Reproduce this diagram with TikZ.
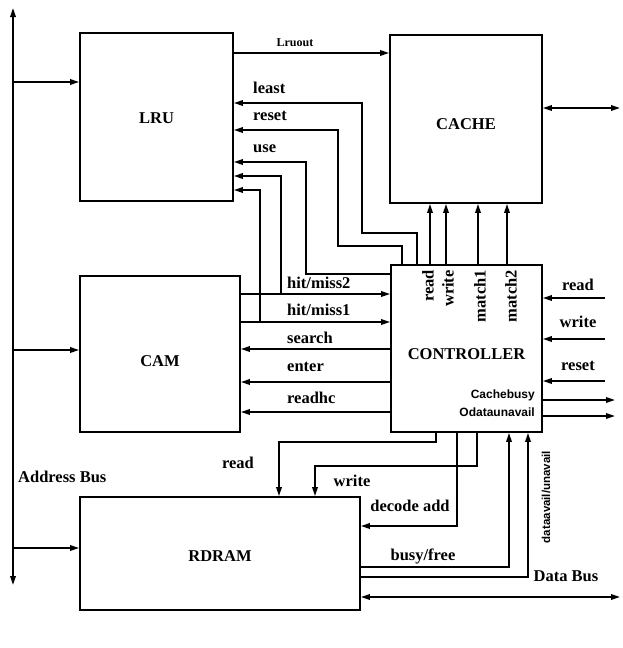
\documentclass[tikz,border=0pt]{standalone}
\usepackage{fontspec}
\setmainfont{Liberation Serif}
\newfontfamily\sigsans{Liberation Sans}
\usetikzlibrary{arrows.meta}

\begin{document}
\begin{tikzpicture}[
  x=1pt, y=-1pt,
  blk/.style={draw, line width=1.8pt, rectangle, inner sep=0pt},
  arr/.style={-{Triangle[length=9pt,width=5.5pt]}, line width=1.7pt},
  darr/.style={{Triangle[length=9pt,width=5.5pt]}-{Triangle[length=9pt,width=5.5pt]}, line width=1.7pt},
  sig/.style={inner sep=0pt, font=\bfseries\fontsize{16.5}{18}\selectfont},
  smallsig/.style={inner sep=0pt, font=\sigsans\bfseries\fontsize{12}{13}\selectfont},
]
\useasboundingbox (0,0) rectangle (622,648);

% blocks
\node[blk, minimum width=153, minimum height=168, label={[sig,name=lrutxt,yshift=-1]center:LRU}] (lru) at (156.5,117) {};
\node[blk, minimum width=152, minimum height=168, label={[sig,name=cachetxt,yshift=-5]center:CACHE}] (cache) at (466,119) {};
\node[blk, minimum width=160, minimum height=156, label={[sig,name=camtxt,yshift=-7]center:CAM}] (cam) at (160,354) {};
\node[blk, minimum width=151, minimum height=167, label={[sig,name=ctrltxt,yshift=-6]center:CONTROLLER}] (ctrl) at (466.5,348.5) {};
\node[blk, minimum width=280, minimum height=113, label={[sig,name=rdramtxt,yshift=-3]center:RDRAM}] (rdram) at (220,553.5) {};

% address bus
\coordinate (abtop) at (13,8);
\coordinate (abbot) at (13,585);
\draw[darr] (abbot) -- (abtop);
\node[sig, anchor=west] (ablbl) at (18,477) {Address Bus};
\draw[arr] (abtop |- 0,82) -- (lru.west |- 0,82);
\draw[arr] (abtop |- 0,350) -- (cam.west |- 0,350);
\draw[arr] (abtop |- 0,548) -- (rdram.west |- 0,548);

% lru <-> cache
\draw[arr] (lru.east |- 0,53) -- (cache.west |- 0,53);
\node[sig, font=\bfseries\fontsize{12}{13}\selectfont] (lruoutlbl) at (295,43) {Lruout};
\coordinate (cbus) at (620,108);
\draw[darr] (cache.east |- cbus) -- (cbus);

% controller -> lru
\draw[arr] (ctrl.north -| 417,0) |- (362,233) |- (lru.east |- 0,103);
\node[sig, anchor=west] (leastlbl) at (253,88) {least};
\draw[arr] (ctrl.north -| 402,0) |- (338,246) |- (lru.east |- 0,130);
\node[sig, anchor=west] (resetlbl) at (253,116) {reset};
\draw[arr] (ctrl.west |- 0,274) -| (306,162) -- (lru.east |- 0,162);
\node[sig, anchor=west] (uselbl) at (253,149) {use};

% cam <-> controller
\coordinate (hm2) at (281,294);
\coordinate (hm1) at (260,322);
\draw[arr] (cam.east |- hm2) -- (ctrl.west |- hm2);
\draw[arr] (hm2) |- (lru.east |- 0,176);
\node[sig, anchor=west] (hm2lbl) at (287,283) {hit/miss2};
\draw[arr] (cam.east |- hm1) -- (ctrl.west |- hm1);
\draw[arr] (hm1) |- (lru.east |- 0,190);
\node[sig, anchor=west] (hm1lbl) at (287,310) {hit/miss1};
\foreach \y/\lbl/\ly [count=\i] in {349/search/338, 382/enter/367, 412/readhc/398} {
  \draw[arr] (ctrl.west |- 0,\y) -- (cam.east |- 0,\y);
  \node[sig, anchor=west] (camlbl\i) at (287,\ly) {\lbl};
}

% controller -> cache
\foreach \x/\lbl/\lx [count=\i] in {430/read/428, 446/write/448, 478/match1/480, 507/match2/511} {
  \draw[arr] (ctrl.north -| \x,0) -- (cache.south -| \x,0);
  \node[sig, rotate=90, anchor=east] (cachelbl\i) at (\lx,270) {\lbl};
}

% controller inputs and outputs
\foreach \y/\lbl/\ly [count=\i] in {298/read/285, 339/write/322, 381/reset/366} {
  \coordinate (in\i) at (605,\y);
  \draw[arr] (in\i) -- (ctrl.east |- in\i);
  \node[sig] (inlbl\i) at (578,\ly) {\lbl};
}
\coordinate (busyout) at (615,400);
\coordinate (unavout) at (615,416);
\draw[arr] (ctrl.east |- busyout) -- (busyout);
\draw[arr] (ctrl.east |- unavout) -- (unavout);
\node[smallsig, anchor=east] (busylbl) at (535,395) {Cachebusy};
\node[smallsig, anchor=east] (unavlbl) at (535,412) {Odataunavail};

% controller <-> rdram
\draw[arr] (ctrl.south -| 436,0) |- (279,442) -- (rdram.north -| 279,0);
\node[sig] (rdlbl) at (238,463) {read};
\draw[arr] (ctrl.south -| 477,0) |- (315,466) -- (rdram.north -| 315,0);
\node[sig] (wrlbl) at (352,481) {write};
\draw[arr] (ctrl.south -| 457,0) |- (rdram.east |- 0,526);
\node[sig] (declbl) at (410,506) {decode add};
\draw[arr] (rdram.east |- 0,567) -| (ctrl.south -| 509,0);
\node[sig] (busyfreelbl) at (423,556) {busy/free};
\draw[arr] (rdram.east |- 0,577) -| (ctrl.south -| 528,0);
\node[smallsig, font=\sigsans\bfseries\fontsize{11.5}{12}\selectfont, rotate=90] (availlbl) at (546,497) {dataavail/unavail};

% data bus
\coordinate (dbus) at (620,597);
\draw[darr] (rdram.east |- dbus) -- (dbus);
\node[sig] (dbuslbl) at (566,576) {Data Bus};
\end{tikzpicture}
\end{document}
